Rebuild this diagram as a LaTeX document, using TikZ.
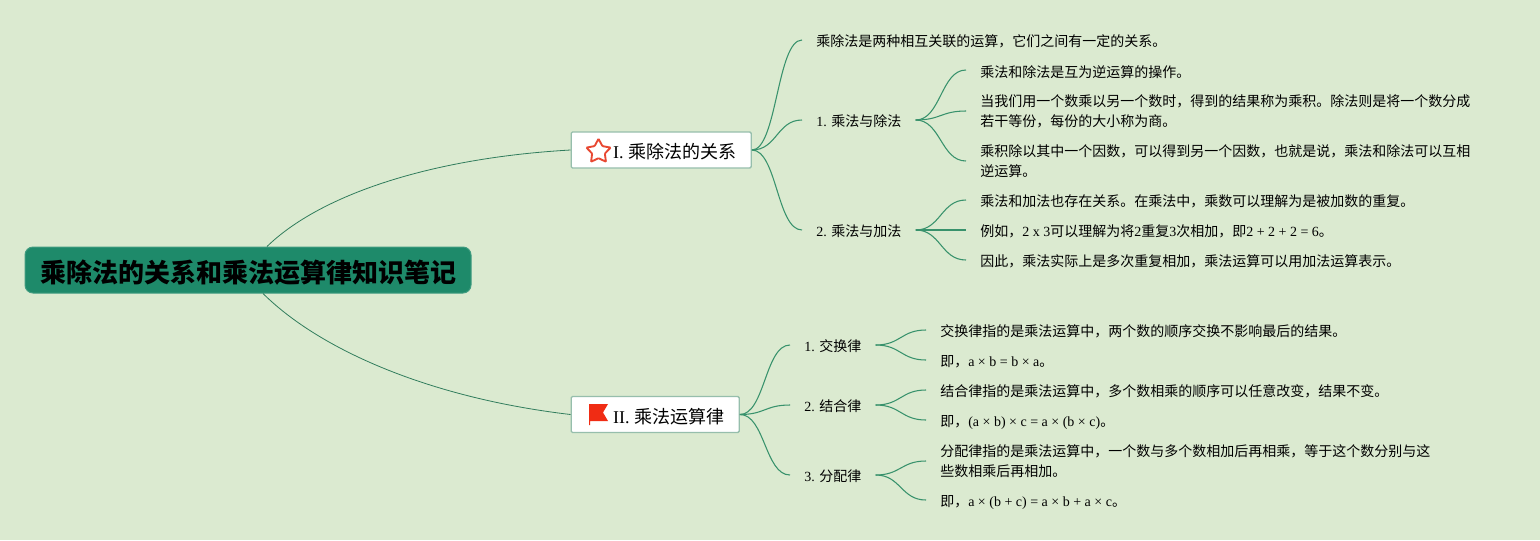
\documentclass[tikz,border=0pt]{standalone}
\usepackage{fontspec}
\usepackage{xcolor}
\usetikzlibrary{calc,shapes.geometric}
\setmainfont{Noto Sans CJK SC}
\newfontfamily\latfont{Liberation Serif}
\newcommand{\lat}[1]{{\latfont #1}}
\definecolor{paper}{RGB}{219,234,208}
\definecolor{rootgreen}{RGB}{30,138,106}
\definecolor{linkgreen}{RGB}{56,146,108}
\definecolor{boxedge}{RGB}{150,190,172}
\definecolor{iconred}{RGB}{232,72,50}
\definecolor{flagred}{RGB}{240,44,20}
\tikzset{
  link/.style={linkgreen, line width=0.8pt, to path={.. controls +(25,0) and +(-25,0) .. (\tikztotarget)}},
  rootlink/.style={linkgreen!85!black, line width=0.6pt},
  rootbox/.style={fill=rootgreen, draw=rootgreen!85!white, rounded corners=6pt, line width=0.75pt, minimum width=334.5pt, minimum height=34.5pt, inner sep=0pt, font=\fontsize{19.5}{24}\selectfont\bfseries, execute at begin node={\rule{0pt}{20.5pt}}},
  topicbox/.style={fill=white, draw=boxedge, rounded corners=1pt, line width=1pt, inner xsep=11.25pt, inner ysep=0pt, minimum height=27pt, anchor=west, font=\fontsize{13.5}{18}\selectfont, execute at begin node={\rule{0pt}{14pt}}},
  subtopic/.style={inner xsep=10.5pt, inner ysep=1pt, anchor=west, align=left, font=\fontsize{10.5}{15}\selectfont, execute at begin node={\rule{0pt}{10.3pt}}},
  leaf/.style={inner xsep=10.5pt, inner ysep=1pt, anchor=west, align=left, font=\fontsize{10.5}{15}\selectfont, execute at begin node={\rule{0pt}{11.5pt}}},
}
\begin{document}
\begin{tikzpicture}[x=0.75pt, y=-0.75pt]
    \fill[paper] (0,0) rectangle (1540,540);
    \useasboundingbox (0,0) rectangle (1540,540);

    % Main topics
    \node[rootbox] (root) at (248,270) {乘除法的关系和乘法运算律知识笔记};
    \node[topicbox] (partA) at (570.5,150) {\hspace*{20.3pt}\lat{I. }乘除法的关系};
    \node[topicbox] (partB) at (570.5,414.5) {\hspace*{20.3pt}\lat{II. }乘法运算律};

    % Icons
    \node[star, star points=5, star point ratio=1.9, draw=iconred, fill=white, line width=1.4pt, rounded corners=0.6pt, minimum size=19pt, inner sep=0pt] (iconA) at (598.5,151.5) {};
    \fill[flagred] (589,404) -- (608,404) -- (603,412.5) -- (608,421) -- (590,421) -- (590,425) -- (589,425) -- cycle;

    % First branch
    \node[leaf] (introA) at (802,40) {乘除法是两种相互关联的运算，它们之间有一定的关系。};
    \node[subtopic] (subAA) at (802,120) {\lat{1. }乘法与除法};
    \node[subtopic] (subAB) at (802,230) {\lat{2. }乘法与加法};
    \node[leaf] (leafAA) at (966,70) {乘法和除法是互为逆运算的操作。};
    \node[leaf] (leafAB) at (966,111) {当我们用一个数乘以另一个数时，得到的结果称为乘积。除法则是将一个数分成\\若干等份，每份的大小称为商。};
    \node[leaf] (leafAC) at (966,161) {乘积除以其中一个因数，可以得到另一个因数，也就是说，乘法和除法可以互相\\逆运算。};
    \node[leaf] (leafBA) at (966,200) {乘法和加法也存在关系。在乘法中，乘数可以理解为是被加数的重复。};
    \node[leaf] (leafBB) at (966,230) {例如，\lat{2 x 3}可以理解为将\lat{2}重复\lat{3}次相加，即\lat{2 + 2 + 2 = 6}。};
    \node[leaf] (leafBC) at (966,260) {因此，乘法实际上是多次重复相加，乘法运算可以用加法运算表示。};

    % Second branch
    \node[subtopic] (subBA) at (790,345) {\lat{1. }交换律};
    \node[subtopic] (subBB) at (790,405) {\lat{2. }结合律};
    \node[subtopic] (subBC) at (790,475) {\lat{3. }分配律};
    \node[leaf] (leafCA) at (926,330) {交换律指的是乘法运算中，两个数的顺序交换不影响最后的结果。};
    \node[leaf] (leafCB) at (926,360) {即，\lat{a × b = b × a}。};
    \node[leaf] (leafDA) at (926,390) {结合律指的是乘法运算中，多个数相乘的顺序可以任意改变，结果不变。};
    \node[leaf] (leafDB) at (926,420) {即，\lat{(a × b) × c = a × (b × c)}。};
    \node[leaf] (leafEA) at (926,461) {分配律指的是乘法运算中，一个数与多个数相加后再相乘，等于这个数分别与这\\些数相乘后再相加。};
    \node[leaf] (leafEB) at (926,500) {即，\lat{a × (b + c) = a × b + a × c}。};

    % Connectors
    \draw[rootlink] ($(root.north)+(19,0)$) .. controls (320,195) and (430,158) .. (partA.west);
    \draw[rootlink] ($(root.south)+(15,0)$) .. controls (320,350) and (430,398) .. (partB.west);
    \foreach \kid in {introA,subAA,subAB} {
        \draw[link] (partA.east) to (\kid.west);
    }
    \foreach \kid in {subBA,subBB,subBC} {
        \draw[link] (partB.east) to (\kid.west);
    }
    \foreach \kid in {leafAA,leafAB,leafAC} {
        \draw[link] (subAA.east) to (\kid.west);
    }
    \foreach \kid in {leafBA,leafBB,leafBC} {
        \draw[link] (subAB.east) to (\kid.west);
    }
    \foreach \kid in {leafCA,leafCB} {
        \draw[link] (subBA.east) to (\kid.west);
    }
    \foreach \kid in {leafDA,leafDB} {
        \draw[link] (subBB.east) to (\kid.west);
    }
    \foreach \kid in {leafEA,leafEB} {
        \draw[link] (subBC.east) to (\kid.west);
    }
\end{tikzpicture}
\end{document}
